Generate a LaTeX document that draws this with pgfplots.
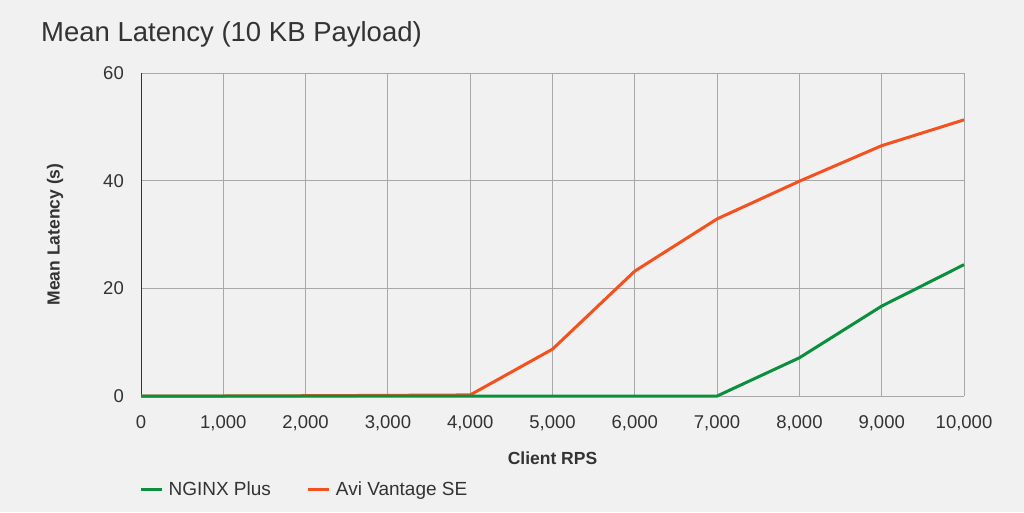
\documentclass[border=0pt]{standalone}
\usepackage{pgfplots}
\pgfplotsset{compat=1.18}
\usepackage{fontspec}
\setmainfont{Liberation Sans}
\definecolor{bg}{HTML}{F1F1F1}
\definecolor{txt}{HTML}{333333}
\definecolor{grd}{HTML}{A8A8A8}
\definecolor{ngx}{HTML}{0A8F3C}
\definecolor{avi}{HTML}{F4511E}
\begin{document}
\begin{tikzpicture}
\fill[bg] (0pt,0pt) rectangle (1024pt,512pt);
\useasboundingbox (0pt,0pt) rectangle (1024pt,512pt);
\node[anchor=base west, text=txt, font=\fontsize{27.5}{32}\selectfont, inner sep=0] at (41pt,470pt) {Mean Latency (10 KB Payload)};
\begin{axis}[
  at={(141pt,116pt)}, anchor=south west,
  scale only axis, width=823pt, height=323pt,
  xmin=0, xmax=10000, ymin=0, ymax=60,
  xtick={0,1000,...,10000}, ytick={0,20,40,60},
  scaled x ticks=false,
  grid=major, grid style={grd, line width=1pt},
  axis lines*=left,
  x axis line style={grd, line width=1pt},
  y axis line style={txt, line width=1pt},
  major tick length=0pt,
  clip=false,
  /pgf/number format/assume math mode=true,
  /pgf/number format/1000 sep={,},
  tick label style={text=txt, font=\fontsize{18.5}{22}\selectfont, inner sep=0pt},
  yticklabel style={anchor=east, xshift=-17pt},
  xticklabel style={anchor=north, yshift=-19pt},
  every axis y label/.style={at={(axis description cs:-0.1045,0.5)}, rotate=90, anchor=center, text=txt, font=\bfseries\fontsize{17.5}{20}\selectfont},
  every axis x label/.style={at={(axis description cs:0.5,-0.192)}, anchor=center, text=txt, font=\bfseries\fontsize{17.5}{20}\selectfont},
  xlabel={Client RPS}, ylabel={Mean Latency (s)},
  legend style={at={(axis description cs:-0.002,-0.288)}, anchor=west, draw=none, fill=none, legend columns=2, inner sep=0pt, font=\fontsize{19}{22}\selectfont, text=txt,
    /tikz/every odd column/.append style={column sep=3pt},
    /tikz/every even column/.append style={column sep=34pt}},
  legend image code/.code={\draw[#1] (0pt,0pt) -- (21pt,0pt);},
  reverse legend,
]
\addplot[avi, line width=3pt] coordinates {(0,0) (1000,0) (2000,0.05) (3000,0.12) (4000,0.2) (5000,8.7) (6000,23.2) (7000,32.9) (8000,39.9) (9000,46.5) (10000,51.3)};
\addlegendentry{Avi Vantage SE}
\addplot[ngx, line width=3pt] coordinates {(0,0) (1000,0) (2000,0) (3000,0) (4000,0) (5000,0) (6000,0) (7000,0) (8000,7.1) (9000,16.7) (10000,24.4)};
\addlegendentry{NGINX Plus}
\end{axis}
\end{tikzpicture}
\end{document}
